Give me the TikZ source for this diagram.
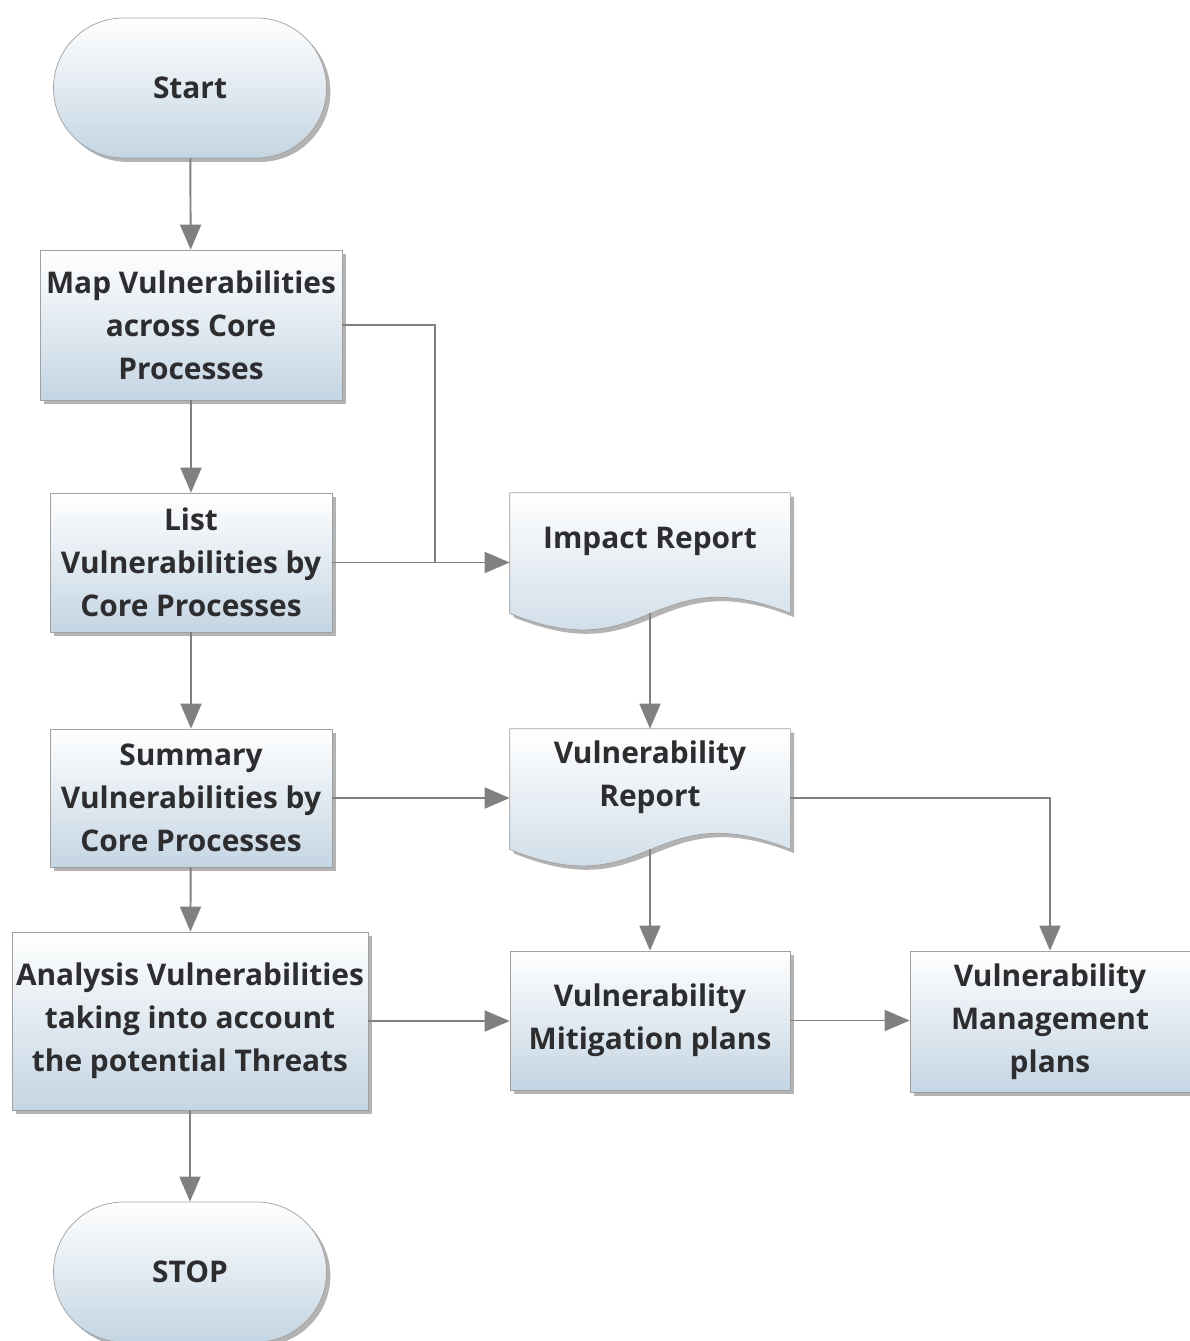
\documentclass[tikz,border=0pt]{standalone}
\usepackage{fontspec}
\setmainfont{Open Sans}
\usepackage{tikz}
\usetikzlibrary{shapes.misc,arrows.meta,positioning,calc,backgrounds,shadows}
\usepackage{xcolor}
\definecolor{flowtext}{RGB}{45,45,48}
\definecolor{flowline}{RGB}{128,128,128}
\definecolor{flowedge}{RGB}{160,160,160}
\definecolor{flowblue}{RGB}{196,213,227}

\begin{document}
\begin{tikzpicture}[
    boxshade/.style={top color=white, bottom color=flowblue, draw=flowedge, thin,
        drop shadow={shadow xshift=2.2pt, shadow yshift=-2.2pt, fill=black!50, opacity=0.6}},
    flowtxt/.style={text=flowtext, align=center, inner sep=2pt,
        font=\fontsize{17}{24.4}\selectfont\bfseries},
    process/.style={rectangle, boxshade, flowtxt},
    terminal/.style={rounded rectangle, boxshade, flowtxt,
        minimum width=5.6cm, minimum height=2.8cm},
    docnode/.style={rectangle, flowtxt, minimum width=5.6cm, minimum height=1.94cm},
    docshape/.style={boxshade},
    line/.style={draw=flowline, line width=1.1pt},
    arr/.style={line, -{Triangle[length=5mm, width=4.2mm]}}
]
    \useasboundingbox (0,0) rectangle (23.78,-26.82);

    % left column
    \node[terminal] (start) at (3.8,-1.76) {Start};
    \node[process, minimum width=6.04cm, minimum height=3.0cm] (map) at (3.82,-6.5)
        {Map Vulnerabilities\\across Core\\Processes};
    \node[process, minimum width=5.64cm, minimum height=2.78cm] (list) at (3.82,-11.25)
        {List\\Vulnerabilities by\\Core Processes};
    \node[process, minimum width=5.64cm, minimum height=2.76cm] (summary) at (3.82,-15.96)
        {Summary\\Vulnerabilities by\\Core Processes};
    \node[process, minimum width=7.12cm, minimum height=3.56cm] (analysis) at (3.8,-20.42)
        {Analysis Vulnerabilities\\taking into account\\the potential Threats};
    \node[terminal] (stop) at (3.8,-25.44) {STOP};

    % documents and plans
    \node[docnode] (impact) at (13.0,-10.83) {Impact Report};
    \node[docnode] (vrep) at (13.0,-15.55) {Vulnerability\\Report};
    \node[process, minimum width=5.6cm, minimum height=2.78cm] (mitig) at (13.0,-20.41)
        {Vulnerability\\Mitigation plans};
    \node[process, minimum width=5.6cm, minimum height=2.82cm] (mgmt) at (21.0,-20.43)
        {Vulnerability\\Management\\plans};

    \begin{scope}[on background layer]
        \foreach \doc in {impact, vrep} {
            \path[docshape] (\doc.north west) -- (\doc.north east)
                -- ($(\doc.south east)+(0,-0.46)$)
                .. controls ($(\doc.south)+(0,0.66)$) and ($(\doc.south)+(0,-1.6)$)
                .. ($(\doc.south west)+(0,-0.46)$) -- cycle;
        }
    \end{scope}
    \coordinate (impact-wave) at ($(impact.south)+(0,-0.46)$);
    \coordinate (vrep-wave) at ($(vrep.south)+(0,-0.46)$);

    % connectors
    \draw[arr] (start) -- (map);
    \draw[arr] (map) -- (list);
    \draw[arr] (list) -- (summary);
    \draw[arr] (summary) -- (analysis);
    \draw[arr] (analysis) -- (stop);
    \draw[line] (map.east) -- ++(1.86,0) |- (list -| impact.west);
    \draw[arr] (list.east) -- (list -| impact.west);
    \draw[arr] (impact-wave) -- (vrep.north);
    \draw[arr] (summary.east) -- (summary -| vrep.west);
    \draw[arr] (vrep-wave) -- (mitig.north);
    \draw[arr] (summary -| vrep.east) -| (mgmt.north);
    \draw[arr] (analysis.east) -- (analysis -| mitig.west);
    \draw[arr] (mitig.east) -- (mitig -| mgmt.west);
\end{tikzpicture}
\end{document}
